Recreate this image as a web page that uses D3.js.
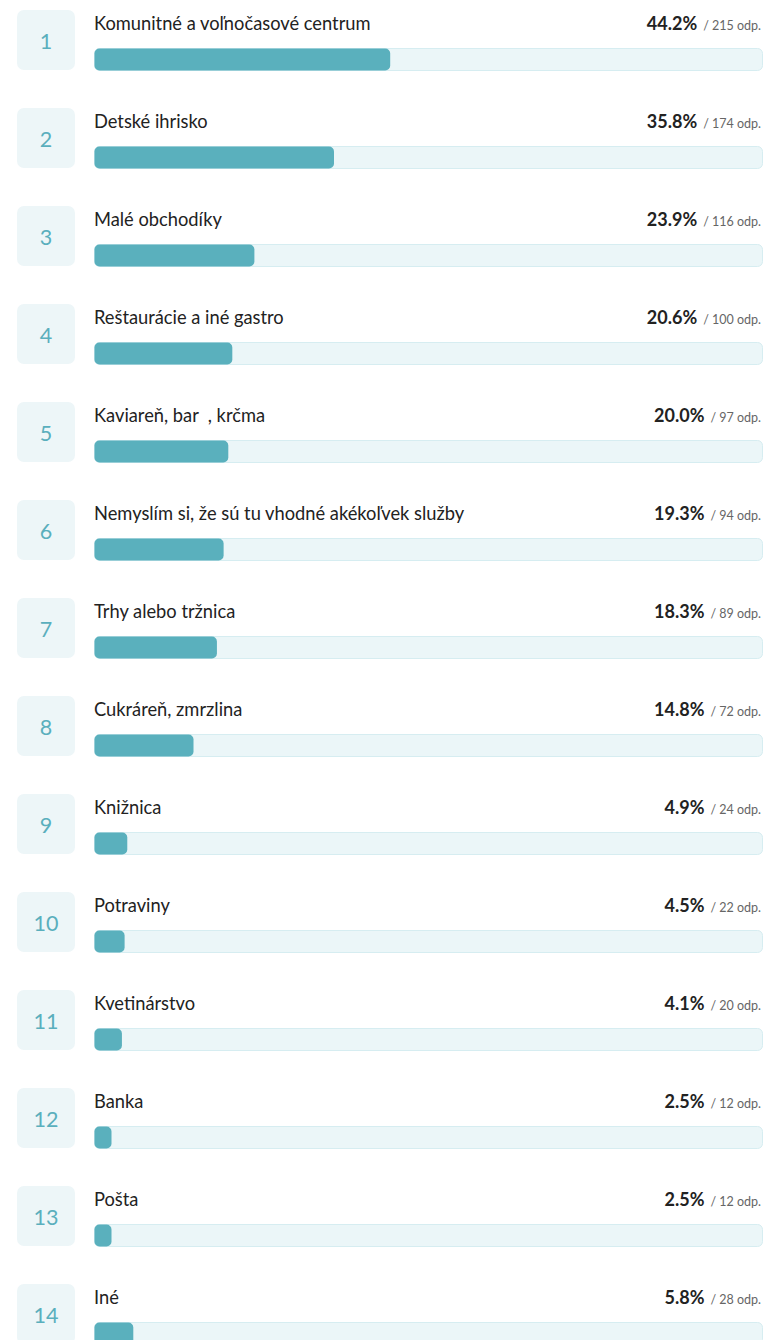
<!DOCTYPE html>
<html><head><meta charset="utf-8">
<script src="https://cdn.jsdelivr.net/npm/d3@7/dist/d3.min.js"></script>
<style>body{margin:0;background:#fff;}svg{display:block;}</style>
</head><body>
<script>
const categories = ["Komunitné a voľnočasové centrum","Detské ihrisko","Malé obchodíky","Reštaurácie a iné gastro","Kaviareň, bar  , krčma","Nemyslím si, že sú tu vhodné akékoľvek služby","Trhy alebo tržnica","Cukráreň, zmrzlina","Knižnica","Potraviny","Kvetinárstvo","Banka","Pošta","Iné"];
const percents = [44.2,35.8,23.9,20.6,20.0,19.3,18.3,14.8,4.9,4.5,4.1,2.5,2.5,5.8];
const counts = [215,174,116,100,97,94,89,72,24,22,20,12,12,28];
const ranks = d3.range(1, categories.length + 1);

const W = 767, H = 1340;
const svg = d3.select("body").append("svg").attr("width", W).attr("height", H);
const font = "Lato, 'Open Sans', sans-serif";

const x = d3.scaleLinear().domain([0, 100]).range([0, 669]);
const barX0 = 94;
const y = d3.scaleBand().domain(ranks).range([10, 10 + 98 * ranks.length]).paddingInner(0);

const rows = svg.selectAll("g.row").data(categories.map((c, i) => ({c, p: percents[i], n: counts[i], r: ranks[i]})))
  .enter().append("g").attr("class", "row").attr("transform", d => `translate(0,${y(d.r)})`);

rows.append("rect").attr("x", 17).attr("y", 0).attr("width", 58).attr("height", 60).attr("rx", 7)
  .attr("fill", "#edf6f8");
rows.append("text").attr("x", 46).attr("y", 38.5).attr("text-anchor", "middle")
  .attr("font-family", font).attr("font-size", 21.5).attr("fill", "#5aafbd").text(d => d.r);

rows.append("text").attr("x", barX0).attr("y", 20).attr("font-family", font).attr("font-size", 18.3)
  .attr("fill", "#222").attr("style", "white-space:pre").text(d => d.c);

rows.append("rect").attr("x", barX0 + 0.5).attr("y", 38.5).attr("width", x(100) - 1).attr("height", 22).attr("rx", 5)
  .attr("fill", "#ebf6f8").attr("stroke", "#d6edf1").attr("stroke-width", 1);
rows.append("rect").attr("x", barX0 + 0.5).attr("y", 38.5).attr("width", d => Math.max(x(d.p), 17)).attr("height", 22).attr("rx", 5)
  .attr("fill", "#5ab0bd");

rows.each(function(d) {
  const g = d3.select(this);
  const cnt = g.append("text").attr("x", 761).attr("y", 20).attr("text-anchor", "end")
    .attr("font-family", font).attr("font-size", 12.5).attr("fill", "#666").text(`/ ${d.n} odp.`);
  const w = cnt.node().getComputedTextLength();
  g.append("text").attr("x", 761 - w - 6).attr("y", 20).attr("text-anchor", "end")
    .attr("font-family", font).attr("font-size", 18).attr("font-weight", "bold").attr("fill", "#222")
    .text(d3.format(".1f")(d.p) + "%");
});
</script>
</body></html>
